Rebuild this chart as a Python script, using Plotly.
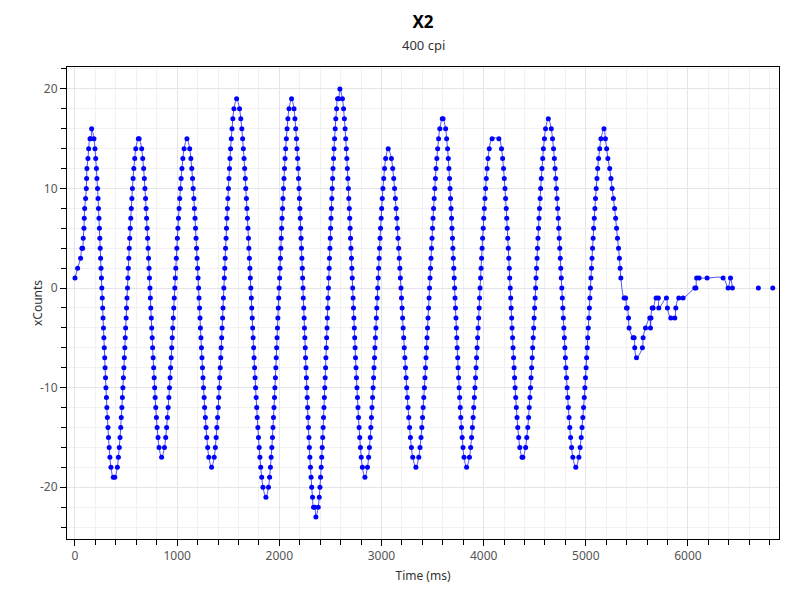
import plotly.graph_objects as go

# Time (ms) of each sample (one row per stroke)
time_ms = [
    0, 26, 55, 68, 75, 81, 88, 91, 95, 104, 111, 114, 117, 127, 134, 147, 156, 163,
    186, 196, 203, 210, 215, 221, 226, 230, 235, 239, 243, 247, 251, 255, 259, 263, 267, 271, 275, 279, 283, 287, 291, 295, 299, 303, 308, 312, 317, 323, 328, 335, 342, 352, 375, 390,
    415, 425, 434, 441, 448, 453, 459, 464, 469, 474, 479, 483, 488, 492, 496, 501, 505, 509, 514, 518, 522, 527, 531, 536, 541, 546, 551, 557, 562, 569, 576, 585, 595, 620, 628,
    653, 663, 672, 679, 685, 691, 696, 701, 706, 711, 716, 720, 725, 729, 734, 738, 742, 747, 751, 756, 760, 765, 770, 775, 780, 785, 791, 797, 804, 813, 823, 848,
    876, 888, 897, 905, 912, 919, 925, 931, 936, 942, 947, 952, 957, 962, 967, 972, 977, 982, 987, 992, 997, 1002, 1008, 1013, 1019, 1025, 1032, 1039, 1047, 1056, 1068, 1096,
    1123, 1134, 1143, 1151, 1157, 1164, 1169, 1175, 1180, 1185, 1190, 1195, 1200, 1205, 1210, 1214, 1219, 1224, 1228, 1233, 1238, 1243, 1248, 1253, 1258, 1264, 1269, 1276, 1283, 1290, 1299, 1310, 1337,
    1363, 1374, 1382, 1389, 1396, 1402, 1407, 1412, 1417, 1422, 1427, 1431, 1436, 1440, 1445, 1449, 1453, 1457, 1462, 1466, 1470, 1474, 1479, 1483, 1487, 1492, 1497, 1502, 1507, 1512, 1517, 1523, 1530, 1537, 1545, 1556, 1582,
    1611, 1623, 1633, 1641, 1648, 1655, 1661, 1667, 1672, 1678, 1683, 1688, 1693, 1698, 1702, 1707, 1712, 1716, 1721, 1726, 1730, 1735, 1739, 1744, 1749, 1753, 1758, 1763, 1768, 1773, 1779, 1784, 1790, 1796, 1803, 1810, 1818, 1828, 1840, 1869,
    1894, 1905, 1913, 1920, 1927, 1933, 1938, 1943, 1948, 1953, 1957, 1962, 1966, 1970, 1974, 1978, 1982, 1986, 1990, 1994, 1998, 2003, 2007, 2011, 2015, 2019, 2023, 2027, 2032, 2036, 2041, 2046, 2051, 2056, 2062, 2069, 2076, 2084, 2095, 2120,
    2144, 2153, 2161, 2168, 2173, 2179, 2184, 2188, 2193, 2197, 2201, 2205, 2209, 2213, 2217, 2221, 2225, 2228, 2232, 2235, 2239, 2243, 2246, 2250, 2254, 2257, 2261, 2265, 2269, 2273, 2277, 2281, 2285, 2290, 2294, 2299, 2305, 2311, 2317, 2325, 2335, 2347, 2358,
    2381, 2391, 2398, 2404, 2410, 2415, 2420, 2425, 2429, 2433, 2437, 2441, 2445, 2449, 2453, 2456, 2460, 2463, 2467, 2470, 2474, 2477, 2481, 2484, 2488, 2491, 2495, 2499, 2502, 2506, 2510, 2514, 2518, 2522, 2526, 2531, 2536, 2541, 2547, 2553, 2561, 2570, 2580, 2593,
    2618, 2629, 2637, 2644, 2650, 2656, 2661, 2666, 2671, 2676, 2680, 2685, 2689, 2693, 2697, 2701, 2706, 2710, 2714, 2718, 2722, 2726, 2730, 2734, 2738, 2742, 2746, 2751, 2755, 2760, 2765, 2770, 2775, 2781, 2787, 2794, 2802, 2813, 2838,
    2863, 2874, 2882, 2890, 2896, 2902, 2907, 2913, 2918, 2923, 2927, 2932, 2936, 2941, 2945, 2950, 2954, 2959, 2963, 2968, 2972, 2977, 2981, 2986, 2991, 2997, 3002, 3008, 3014, 3022, 3030, 3041, 3066,
    3097, 3110, 3120, 3128, 3136, 3143, 3150, 3156, 3162, 3168, 3174, 3180, 3185, 3191, 3196, 3202, 3207, 3212, 3218, 3223, 3229, 3235, 3241, 3247, 3253, 3260, 3267, 3275, 3283, 3293, 3306, 3337,
    3365, 3377, 3387, 3395, 3402, 3408, 3414, 3420, 3426, 3431, 3436, 3441, 3446, 3451, 3456, 3461, 3466, 3470, 3475, 3480, 3485, 3490, 3495, 3500, 3505, 3510, 3516, 3522, 3528, 3534, 3542, 3550, 3559, 3571, 3595, 3603,
    3628, 3638, 3647, 3654, 3660, 3666, 3671, 3676, 3681, 3686, 3690, 3695, 3699, 3703, 3708, 3712, 3716, 3720, 3724, 3729, 3733, 3737, 3741, 3746, 3750, 3755, 3760, 3765, 3771, 3776, 3783, 3790, 3798, 3808, 3833,
    3861, 3873, 3882, 3890, 3897, 3903, 3909, 3915, 3921, 3926, 3931, 3936, 3941, 3946, 3951, 3956, 3960, 3965, 3970, 3975, 3980, 3985, 3990, 3996, 4001, 4007, 4013, 4019, 4026, 4034, 4043, 4055, 4083, 4149,
    4175, 4186, 4195, 4202, 4209, 4215, 4221, 4226, 4231, 4236, 4241, 4246, 4251, 4255, 4260, 4265, 4269, 4274, 4278, 4283, 4288, 4293, 4298, 4303, 4308, 4314, 4320, 4327, 4334, 4343, 4354, 4376, 4384,
    4411, 4422, 4432, 4440, 4446, 4453, 4459, 4464, 4470, 4475, 4480, 4485, 4490, 4494, 4499, 4504, 4509, 4513, 4518, 4523, 4527, 4532, 4537, 4542, 4547, 4553, 4558, 4564, 4571, 4578, 4585, 4595, 4606, 4633,
    4662, 4674, 4684, 4692, 4699, 4706, 4712, 4718, 4724, 4730, 4735, 4740, 4745, 4750, 4755, 4760, 4765, 4770, 4775, 4780, 4785, 4790, 4795, 4800, 4805, 4811, 4817, 4823, 4829, 4836, 4843, 4851, 4861, 4873, 4902,
    4932, 4944, 4955, 4963, 4971, 4978, 4985, 4991, 4997, 5003, 5008, 5014, 5019, 5024, 5030, 5035, 5040, 5045, 5050, 5056, 5061, 5066, 5072, 5077, 5083, 5089, 5095, 5102, 5109, 5116, 5125, 5136, 5148, 5178,
    5192, 5204, 5216, 5234, 5246, 5258, 5270, 5282, 5292, 5301, 5310, 5320, 5329, 5336, 5343,
    5375, 5390, 5398, 5405, 5418, 5424, 5463, 5473, 5479, 5496, 5554, 5561, 5584, 5626, 5633, 5638, 5650, 5659, 5688, 5710, 5714, 5789, 5799, 5832, 5871, 5881, 5910, 5952, 6067, 6078, 6085, 6109, 6187, 6344, 6393, 6416, 6435, 6689, 6830,
]

# xCounts of each sample (same row layout)
x_counts = [
    1, 2, 3, 4, 4, 5, 6, 7, 8, 9, 10, 11, 12, 13, 14, 15, 15, 16,
    15, 14, 13, 12, 11, 10, 9, 8, 7, 6, 5, 4, 3, 2, 1, 0, -1, -2, -3, -4, -5, -6, -7, -8, -9, -10, -11, -12, -13, -14, -15, -16, -17, -18, -19, -19,
    -18, -17, -16, -15, -14, -13, -12, -11, -10, -9, -8, -7, -6, -5, -4, -3, -2, -1, 0, 1, 2, 3, 4, 5, 6, 7, 8, 9, 10, 11, 12, 13, 14, 15, 15,
    14, 13, 12, 11, 10, 9, 8, 7, 6, 5, 4, 3, 2, 1, 0, -1, -2, -3, -4, -5, -6, -7, -8, -9, -10, -11, -12, -13, -14, -15, -16, -17,
    -16, -15, -14, -13, -12, -11, -10, -9, -8, -7, -6, -5, -4, -3, -2, -1, 0, 1, 2, 3, 4, 5, 6, 7, 8, 9, 10, 11, 12, 13, 14, 15,
    14, 13, 12, 11, 10, 9, 8, 7, 6, 5, 4, 3, 2, 1, 0, -1, -2, -3, -4, -5, -6, -7, -8, -9, -10, -11, -12, -13, -14, -15, -16, -17, -18,
    -17, -16, -15, -14, -13, -12, -11, -10, -9, -8, -7, -6, -5, -4, -3, -2, -1, 0, 1, 2, 3, 4, 5, 6, 7, 8, 9, 10, 11, 12, 13, 14, 15, 16, 17, 18, 19,
    18, 17, 16, 15, 14, 13, 12, 11, 10, 9, 8, 7, 6, 5, 4, 3, 2, 1, 0, -1, -2, -3, -4, -5, -6, -7, -8, -9, -10, -11, -12, -13, -14, -15, -16, -17, -18, -19, -20, -21,
    -20, -19, -18, -17, -16, -15, -14, -13, -12, -11, -10, -9, -8, -7, -6, -5, -4, -3, -2, -1, 0, 1, 2, 3, 4, 5, 6, 7, 8, 9, 10, 11, 12, 13, 14, 15, 16, 17, 18, 19,
    18, 17, 16, 15, 14, 13, 12, 11, 10, 9, 8, 7, 6, 5, 4, 3, 2, 1, 0, -1, -2, -3, -4, -5, -6, -7, -8, -9, -10, -11, -12, -13, -14, -15, -16, -17, -18, -19, -20, -21, -22, -22, -23,
    -22, -21, -20, -19, -18, -17, -16, -15, -14, -13, -12, -11, -10, -9, -8, -7, -6, -5, -4, -3, -2, -1, 0, 1, 2, 3, 4, 5, 6, 7, 8, 9, 10, 11, 12, 13, 14, 15, 16, 17, 18, 19, 19, 20,
    19, 18, 17, 16, 15, 14, 13, 12, 11, 10, 9, 8, 7, 6, 5, 4, 3, 2, 1, 0, -1, -2, -3, -4, -5, -6, -7, -8, -9, -10, -11, -12, -13, -14, -15, -16, -17, -18, -19,
    -18, -17, -16, -15, -14, -13, -12, -11, -10, -9, -8, -7, -6, -5, -4, -3, -2, -1, 0, 1, 2, 3, 4, 5, 6, 7, 8, 9, 10, 11, 12, 13, 14,
    13, 12, 11, 10, 9, 8, 7, 6, 5, 4, 3, 2, 1, 0, -1, -2, -3, -4, -5, -6, -7, -8, -9, -10, -11, -12, -13, -14, -15, -16, -17, -18,
    -17, -16, -15, -14, -13, -12, -11, -10, -9, -8, -7, -6, -5, -4, -3, -2, -1, 0, 1, 2, 3, 4, 5, 6, 7, 8, 9, 10, 11, 12, 13, 14, 15, 16, 17, 17,
    16, 15, 14, 13, 12, 11, 10, 9, 8, 7, 6, 5, 4, 3, 2, 1, 0, -1, -2, -3, -4, -5, -6, -7, -8, -9, -10, -11, -12, -13, -14, -15, -16, -17, -18,
    -17, -16, -15, -14, -13, -12, -11, -10, -9, -8, -7, -6, -5, -4, -3, -2, -1, 0, 1, 2, 3, 4, 5, 6, 7, 8, 9, 10, 11, 12, 13, 14, 15, 15,
    14, 13, 12, 11, 10, 9, 8, 7, 6, 5, 4, 3, 2, 1, 0, -1, -2, -3, -4, -5, -6, -7, -8, -9, -10, -11, -12, -13, -14, -15, -16, -17, -17,
    -16, -15, -14, -13, -12, -11, -10, -9, -8, -7, -6, -5, -4, -3, -2, -1, 0, 1, 2, 3, 4, 5, 6, 7, 8, 9, 10, 11, 12, 13, 14, 15, 16, 17,
    16, 15, 14, 13, 12, 11, 10, 9, 8, 7, 6, 5, 4, 3, 2, 1, 0, -1, -2, -3, -4, -5, -6, -7, -8, -9, -10, -11, -12, -13, -14, -15, -16, -17, -18,
    -17, -16, -15, -14, -13, -12, -11, -10, -9, -8, -7, -6, -5, -4, -3, -2, -1, 0, 1, 2, 3, 4, 5, 6, 7, 8, 9, 10, 11, 12, 13, 14, 15, 16,
    15, 14, 13, 12, 11, 10, 9, 8, 7, 6, 5, 4, 3, 2, 1,
    -1, -1, -2, -2, -3, -4, -5, -5, -6, -7, -6, -5, -4, -3, -4, -3, -2, -2, -1, -1, -2, -1, -2, -3, -3, -2, -1, -1, 0, 0, 1, 1, 1, 1, 0, 1, 0, 0, 0,
]

# number of trailing samples drawn without the smoothed line
unlined_tail = 2

# axis tick labels
x_tick_values = [0, 1000, 2000, 3000, 4000, 5000, 6000]
x_tick_labels = ["0", "1000", "2000", "3000", "4000", "5000", "6000"]
y_tick_values = [-20, -10, 0, 10, 20]
y_tick_labels = ["-20", "-10", "0", "10", "20"]

title_text = "X2"
subtitle_text = "400 cpi"
x_title = "Time (ms)"
y_title = "xCounts"

assert len(time_ms) == len(x_counts)

FONT = "Noto Sans, Open Sans, sans-serif"

# The page body has an 8px margin; the figure is sized so it fits the window.
W, H = 784, 584
PLOT_L, PLOT_T, PLOT_R, PLOT_B = 59, 59, 771, 531  # plot frame, in figure pixels
PW, PH = PLOT_R - PLOT_L, PLOT_B - PLOT_T

fig = go.Figure()
fig.add_trace(go.Scatter(
    x=time_ms[:-unlined_tail], y=x_counts[:-unlined_tail],
    mode="lines",
    line=dict(color="rgba(20,20,255,0.75)", width=1, shape="spline", smoothing=1.0),
    hoverinfo="skip", showlegend=False,
))
fig.add_trace(go.Scatter(
    x=time_ms, y=x_counts,
    mode="markers",
    marker=dict(color="#0000ff", size=5),
    showlegend=False,
))

axis_common = dict(
    showline=True, linecolor="black", linewidth=1, mirror=True,
    ticks="outside", ticklen=6, tickcolor="black", tickwidth=1,
    showgrid=True, gridcolor="#e4e4ea", gridwidth=1,
    zeroline=False, automargin=False,
    tickfont=dict(family=FONT, size=12, color="#555555"),
    title_font=dict(family=FONT, size=12, color="#333333"),
)

fig.update_xaxes(
    **axis_common,
    range=[-78, 6891],
    tickmode="array", tickvals=x_tick_values, ticktext=x_tick_labels,
    minor=dict(tick0=0, dtick=200, ticks="outside", ticklen=5, tickcolor="black",
               showgrid=True, gridcolor="#f1f1f4"),
    title_text=x_title, title_standoff=8,
)
fig.update_yaxes(
    **axis_common,
    range=[-25.2, 22.2],
    tickmode="array", tickvals=y_tick_values, ticktext=y_tick_labels,
    minor=dict(tick0=0, dtick=2, ticks="outside", ticklen=5, tickcolor="black",
               showgrid=True, gridcolor="#f1f1f4"),
)

fig.update_layout(
    width=W, height=H,
    margin=dict(l=PLOT_L, r=W - PLOT_R, t=PLOT_T, b=H - PLOT_B),
    paper_bgcolor="white", plot_bgcolor="white",
    font=dict(family=FONT),
    title=dict(text="<b>" + title_text + "</b>", x=0.5, xanchor="center", xref="paper",
               y=1 - 14 / H, yanchor="middle", yref="container",
               font=dict(family=FONT, size=17, color="black")),
    annotations=[
        dict(text=subtitle_text, xref="paper", yref="paper",
             x=0.5, y=(PLOT_B - 37) / PH, xanchor="center", yanchor="middle",
             showarrow=False, font=dict(family=FONT, size=13, color="#333333")),
        dict(text=y_title, xref="paper", yref="paper",
             x=(29 - PLOT_L) / PW, y=0.5, xanchor="center", yanchor="middle",
             textangle=-90, showarrow=False,
             font=dict(family=FONT, size=12, color="#333333")),
    ],
)

fig.write_html("out.html")
